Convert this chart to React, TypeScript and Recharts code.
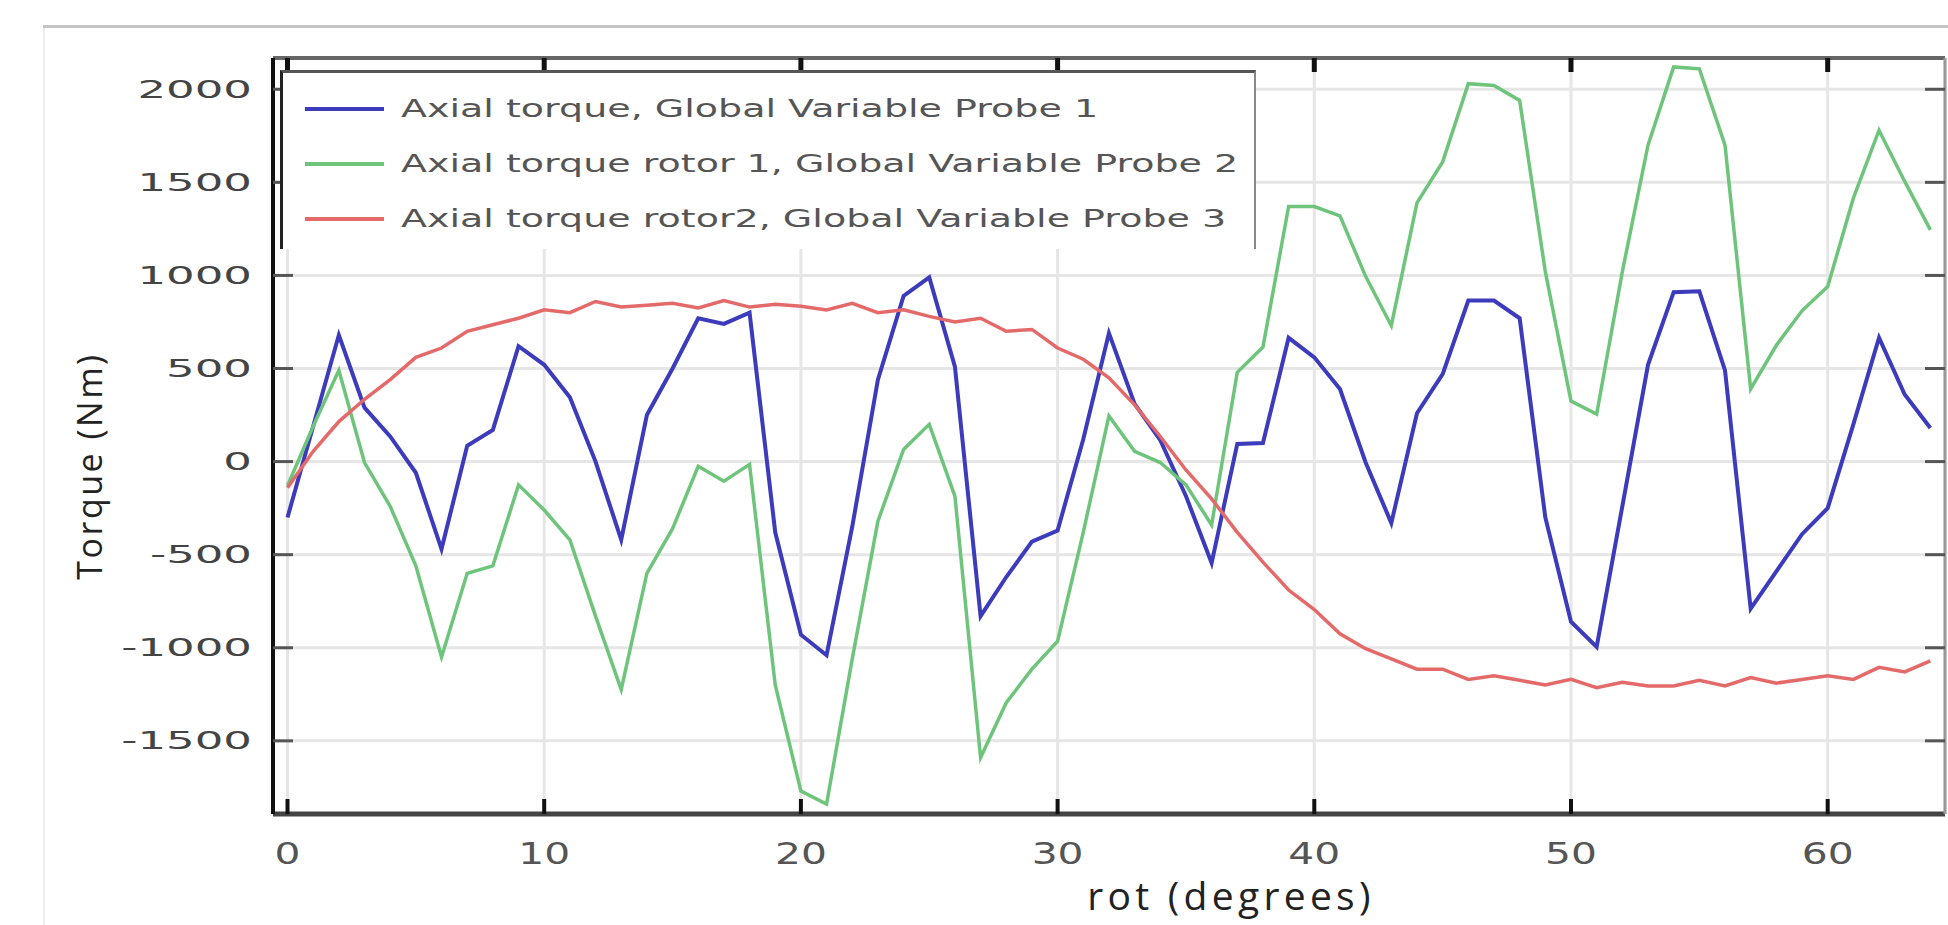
import React from 'react';
import { LineChart, Line, XAxis, YAxis, CartesianGrid, Legend, Label } from 'recharts';

// rotation angle in degrees
const rot = [
  0, 1, 2, 3, 4, 5, 6, 7, 8, 9, 10, 11, 12, 13, 14, 15, 16, 17, 18, 19, 20, 21,
  22, 23, 24, 25, 26, 27, 28, 29, 30, 31, 32, 33, 34, 35, 36, 37, 38, 39, 40, 41,
  42, 43, 44, 45, 46, 47, 48, 49, 50, 51, 52, 53, 54, 55, 56, 57, 58, 59, 60, 61,
  62, 63, 64,
];

// Axial torque, Global Variable Probe 1
const probe1 = [
  -300, 190, 680, 290, 135, -60, -470, 85, 170, 620, 520, 345, 0, -420, 250, 500,
  770, 740, 800, -380, -930, -1040, -350, 440, 890, 990, 510, -830, -620, -430,
  -370, 120, 690, 310, 115, -185, -545, 95, 100, 665, 560, 390, -5, -330, 260, 470,
  865, 865, 770, -300, -860, -995, -240, 520, 910, 915, 490, -790, -590, -390, -250,
  200, 665, 360, 180,
];

// Axial torque rotor 1, Global Variable Probe 2
const probe2 = [
  -130, 190, 490, -5, -240, -560, -1050, -600, -560, -125, -260, -420, -830, -1225,
  -600, -360, -25, -105, -15, -1200, -1770, -1840, -1060, -320, 65, 200, -185,
  -1590, -1295, -1115, -965, -380, 245, 55, -5, -125, -340, 480, 615, 1370, 1370,
  1320, 995, 730, 1390, 1610, 2030, 2020, 1940, 1020, 325, 255, 1020, 1700, 2120,
  2110, 1700, 390, 625, 810, 940, 1415, 1780, 1505, 1245,
];

// Axial torque rotor2, Global Variable Probe 3
const probe3 = [
  -140, 55, 215, 335, 440, 560, 610, 700, 735, 770, 815, 800, 860, 830, 840, 850,
  825, 865, 830, 845, 835, 815, 850, 800, 815, 780, 750, 770, 700, 710, 610, 550,
  450, 305, 135, -45, -200, -380, -540, -690, -795, -925, -1005, -1060, -1115,
  -1115, -1170, -1150, -1175, -1200, -1170, -1215, -1185, -1205, -1205, -1175,
  -1205, -1160, -1190, -1170, -1150, -1170, -1105, -1130, -1070,
];

const xTicks = [0, 10, 20, 30, 40, 50, 60];
const yTicks = [-1500, -1000, -500, 0, 500, 1000, 1500, 2000];

const seriesNames = [
  'Axial torque, Global Variable Probe 1',
  'Axial torque rotor 1, Global Variable Probe 2',
  'Axial torque rotor2, Global Variable Probe 3',
];

const data = rot.map((r, i) => ({ rot: r, p1: probe1[i], p2: probe2[i], p3: probe3[i] }));

const xDomain: [number, number] = [-0.565, 64.57];
const yDomain: [number, number] = [-1893, 2168];

const YTick = (props: any) => {
  const { x, y, payload } = props;
  return (
    <text
      transform={`translate(${x},${y}) scale(1.8,1)`}
      textAnchor="end"
      dominantBaseline="central"
      fontFamily="DejaVu Sans"
      fontSize={25}
      fill="#444"
    >
      {payload.value}
    </text>
  );
};

const XTick = (props: any) => {
  const { x, y, payload } = props;
  return (
    <text
      transform={`translate(${x},${y}) scale(1.36,1)`}
      textAnchor="middle"
      dominantBaseline="central"
      fontFamily="DejaVu Sans"
      fontSize={30}
      fill="#555"
    >
      {payload.value}
    </text>
  );
};

// tick marks only, no labels
const NoLabel = () => <g />;

const renderLegend = (props: any) => {
  const items = [...(props.payload || [])].sort(
    (a: any, b: any) => seriesNames.indexOf(a.value) - seriesNames.indexOf(b.value)
  );
  return (
    <div
      style={{
        width: 976,
        height: 179,
        boxSizing: 'border-box',
        background: '#fff',
        borderLeft: '3px solid #222',
        borderTop: '3px solid #555',
        borderRight: '2px solid #888',
        paddingTop: 8,
      }}
    >
      {items.map((entry: any) => (
        <div key={entry.value} style={{ display: 'flex', alignItems: 'center', height: 55 }}>
          <div style={{ width: 79, height: 4, background: entry.color, marginLeft: 22 }} />
          <div
            style={{
              marginLeft: 17,
              fontFamily: 'DejaVu Sans',
              fontSize: 25,
              color: '#555',
              whiteSpace: 'nowrap',
              transform: 'scaleX(1.52)',
              transformOrigin: 'left center',
            }}
          >
            {entry.value}
          </div>
        </div>
      ))}
    </div>
  );
};

export default function App() {
  return (
    <div style={{ position: 'absolute', left: 0, top: 0, width: 1948, height: 925, background: '#fff', overflow: 'hidden' }}>
      <div style={{ position: 'absolute', left: 43, top: 25, right: 0, height: 3, background: '#c4c4c4' }} />
      <div style={{ position: 'absolute', left: 43, top: 28, bottom: 0, width: 2, background: '#eeeeee' }} />
      <div style={{ position: 'absolute', left: 0, top: 0 }}>
        <LineChart width={1948} height={925} data={data} margin={{ top: 58, right: 3, bottom: 0, left: 0 }}>
          <CartesianGrid stroke="#e6e6e6" strokeWidth={3} />
          <XAxis
            dataKey="rot"
            type="number"
            domain={xDomain}
            allowDataOverflow
            ticks={xTicks}
            height={111}
            axisLine={{ stroke: '#444', strokeWidth: 5 }}
            tickLine={false}
            tickSize={0}
            tickMargin={40}
            tick={<XTick />}
          >
            <Label
              content={(p: any) => {
                const vb = p.viewBox;
                return (
                  <text
                    x={vb.x + vb.width / 2 + 122}
                    y={vb.y + 96}
                    textAnchor="middle"
                    fontFamily="Open Sans"
                    fontSize={39}
                    letterSpacing={4.3}
                    fill="#222"
                  >
                    rot (degrees)
                  </text>
                );
              }}
            />
          </XAxis>
          <XAxis
            xAxisId="bt"
            dataKey="rot"
            type="number"
            domain={xDomain}
            allowDataOverflow
            ticks={xTicks}
            orientation="bottom"
            mirror
            axisLine={false}
            tickSize={15}
            tickLine={{ stroke: '#111', strokeWidth: 4 }}
            tick={<NoLabel />}
          />
          <XAxis
            xAxisId="tp"
            dataKey="rot"
            type="number"
            domain={xDomain}
            allowDataOverflow
            ticks={xTicks}
            orientation="top"
            mirror
            axisLine={{ stroke: '#666', strokeWidth: 4 }}
            tickSize={14}
            tickLine={{ stroke: '#111', strokeWidth: 5 }}
            tick={<NoLabel />}
          />
          <YAxis
            type="number"
            domain={yDomain}
            allowDataOverflow
            ticks={yTicks}
            width={273}
            axisLine={{ stroke: '#111', strokeWidth: 4 }}
            tickLine={false}
            tickSize={0}
            tickMargin={21}
            tick={<YTick />}
          >
            <Label
              content={(p: any) => {
                const vb = p.viewBox;
                return (
                  <text
                    transform={`translate(${vb.x + 102},${vb.y + vb.height / 2 + 30}) rotate(-90)`}
                    textAnchor="middle"
                    fontFamily="Open Sans"
                    fontSize={34}
                    letterSpacing={2.5}
                    fill="#222"
                  >
                    Torque (Nm)
                  </text>
                );
              }}
            />
          </YAxis>
          <YAxis
            yAxisId="lt"
            type="number"
            domain={yDomain}
            allowDataOverflow
            ticks={yTicks}
            orientation="left"
            mirror
            axisLine={false}
            tickSize={20}
            tickLine={{ stroke: '#555', strokeWidth: 3 }}
            tick={<NoLabel />}
          />
          <YAxis
            yAxisId="rt"
            type="number"
            domain={yDomain}
            allowDataOverflow
            ticks={yTicks}
            orientation="right"
            mirror
            axisLine={{ stroke: '#999', strokeWidth: 3 }}
            tickSize={20}
            tickLine={{ stroke: '#555', strokeWidth: 3 }}
            tick={<NoLabel />}
          />
          <Legend
            layout="horizontal"
            verticalAlign="middle"
            align="center"
            content={renderLegend}
            wrapperStyle={{ left: 280, top: 70, width: 976, height: 179 }}
          />
          <Line type="linear" dataKey="p1" name={seriesNames[0]} stroke="#3b3bbc" strokeWidth={4} dot={false} isAnimationActive={false} />
          <Line type="linear" dataKey="p2" name={seriesNames[1]} stroke="#6fc47c" strokeWidth={3.5} dot={false} isAnimationActive={false} />
          <Line type="linear" dataKey="p3" name={seriesNames[2]} stroke="#e46a6a" strokeWidth={3.5} dot={false} isAnimationActive={false} />
        </LineChart>
      </div>
    </div>
  );
}
